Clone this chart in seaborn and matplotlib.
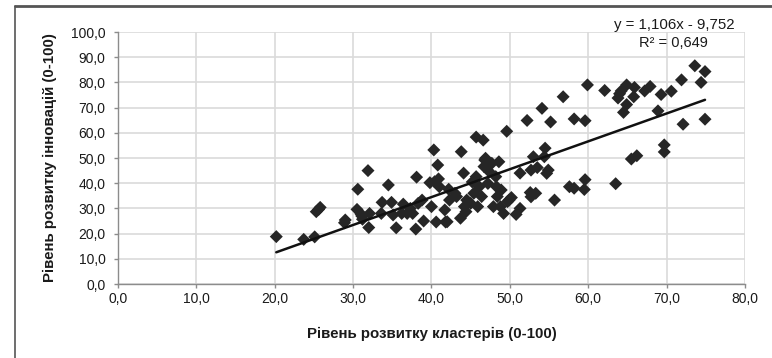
import matplotlib
matplotlib.use("Agg")
import matplotlib.pyplot as plt
from matplotlib.lines import Line2D
import numpy as np
import pandas as pd
import seaborn as sns

# Cluster development level (x) and innovation development level (y), 0-100 scale
cluster_level = [
    20.2, 23.7, 25.1, 25.3, 25.8, 25.6, 28.9, 29.0, 30.6, 30.5,
    31.1, 31.2, 31.9, 32.0, 32.1, 33.6, 33.7, 34.5, 34.9, 35.1,
    35.5, 36.2, 36.4, 36.9, 37.3, 37.6, 38.0, 38.1, 38.3, 38.8,
    39.0, 39.8, 40.0, 40.3, 40.6, 40.8, 40.9, 41.0, 41.7, 42.0,
    42.2, 42.3, 43.0, 43.2, 43.7, 43.8, 44.1, 44.2, 44.4, 44.5,
    45.0, 45.4, 45.7, 45.7, 45.9, 46.1, 46.4, 46.6, 46.7, 46.9,
    47.2, 47.7, 47.9, 48.2, 48.3, 48.4, 48.6, 48.8, 48.9, 49.2,
    49.6, 49.9, 50.2, 50.8, 51.3, 51.3, 52.2, 52.6, 52.7, 53.0,
    53.3, 53.5, 54.1, 54.5, 54.7, 54.9, 55.2, 55.7, 56.8, 57.6,
    58.2, 58.2, 59.5, 59.6, 59.6, 59.9, 62.1, 63.5, 63.8, 64.0,
    64.5, 64.9, 64.9, 65.5, 65.9, 66.2, 65.8, 67.2, 67.9, 69.3,
    68.9, 69.7, 69.7, 70.6, 71.9, 72.1, 73.6, 74.4, 74.9, 74.9,
    41.8, 54.4, 40.4, 46.8, 47.4, 52.7, 49.7, 64.2, 31.0, 45.2,
]
innovation_level = [
    18.8, 17.7, 18.7, 28.7, 30.4, 29.6, 24.3, 25.4, 37.6, 29.6,
    27.0, 25.7, 45.0, 22.4, 28.0, 28.0, 32.4, 39.3, 32.4, 27.4,
    22.3, 28.0, 31.7, 28.0, 30.0, 28.0, 21.8, 42.4, 32.0, 33.3,
    25.0, 40.2, 30.7, 53.2, 24.6, 47.2, 41.7, 38.6, 29.4, 24.7,
    37.6, 33.3, 36.0, 34.7, 26.1, 52.5, 44.0, 30.7, 28.7, 33.3,
    32.0, 36.0, 58.3, 42.6, 30.7, 38.6, 34.7, 57.1, 46.6, 49.9,
    39.9, 47.9, 30.7, 42.6, 38.6, 34.7, 48.5, 30.7, 37.3, 28.0,
    60.6, 33.3, 34.3, 27.6, 30.0, 44.0, 64.9, 36.3, 45.2, 50.5,
    36.0, 46.2, 69.7, 53.9, 43.9, 45.2, 64.3, 33.3, 74.3, 38.6,
    65.5, 38.0, 37.5, 41.4, 64.8, 79.0, 76.8, 39.8, 73.8, 75.5,
    68.1, 71.2, 79.0, 49.6, 78.0, 50.9, 74.3, 76.6, 78.4, 75.2,
    68.7, 55.2, 52.4, 76.5, 81.0, 63.4, 86.6, 80.0, 84.3, 65.4,
    24.6, 50.5, 40.6, 49.2, 44.5, 34.6, 32.7, 76.6, 27.8, 40.5,
]

# Linear trend as stated in the chart annotation
trend_slope = 1.106
trend_intercept = -9.752
trend_r2 = 0.649

x_ticks = [0, 10, 20, 30, 40, 50, 60, 70, 80]
x_tick_labels = ["0,0", "10,0", "20,0", "30,0", "40,0", "50,0", "60,0", "70,0", "80,0"]
y_ticks = [0, 10, 20, 30, 40, 50, 60, 70, 80, 90, 100]
y_tick_labels = ["0,0", "10,0", "20,0", "30,0", "40,0", "50,0", "60,0", "70,0",
                 "80,0", "90,0", "100,0"]

x_title = "Рівень розвитку кластерів (0-100)"
y_title = "Рівень розвитку інновацій (0-100)"

df = pd.DataFrame({"cluster": cluster_level, "innovation": innovation_level})
x_line = np.array([min(cluster_level), max(cluster_level)])
line_df = pd.DataFrame({"cluster": x_line,
                        "innovation": trend_slope * x_line + trend_intercept})

sns.set_style("whitegrid")
plt.rcParams["font.family"] = ["Liberation Sans", "DejaVu Sans"]

fig = plt.figure(figsize=(7.72, 3.58), dpi=100)
ax = fig.add_axes([0.1528, 0.2067, 0.8122, 0.7039])

sns.scatterplot(data=df, x="cluster", y="innovation", marker="D", s=44,
                color="#262626", edgecolor="none", linewidth=0, ax=ax, zorder=3)
sns.lineplot(data=line_df, x="cluster", y="innovation", color="#111111",
             linewidth=1.8, ax=ax, zorder=4)

ax.set_xlim(0, 80)
ax.set_ylim(0, 100)
ax.set_xticks(x_ticks)
ax.set_xticklabels(x_tick_labels)
ax.set_yticks(y_ticks)
ax.set_yticklabels(y_tick_labels)
ax.grid(True, color="#dadada", linewidth=1.2)
ax.set_axisbelow(True)

for side in ("top", "right"):
    ax.spines[side].set_visible(False)
for side in ("left", "bottom"):
    ax.spines[side].set_visible(True)
    ax.spines[side].set_color("#8c8c8c")
    ax.spines[side].set_linewidth(1.0)

ax.tick_params(axis="both", which="both", length=3, width=1.0, color="#8c8c8c",
               labelsize=10, labelcolor="#1a1a1a", direction="out",
               left=True, bottom=True)
ax.tick_params(axis="x", pad=2.5)
ax.tick_params(axis="y", pad=6)

ax.set_xlabel(x_title, fontsize=10.8, fontweight="bold", color="#1a1a1a", labelpad=15)
ax.set_ylabel(y_title, fontsize=10.8, fontweight="bold", color="#1a1a1a", labelpad=10)

eq_text = f"y = {trend_slope:.3f}x - {abs(trend_intercept):.3f}".replace(".", ",")
r2_text = f"R² = {trend_r2:.3f}".replace(".", ",")
fig.text(0.951, 0.931, eq_text, ha="right", va="center", fontsize=10.8, color="#1a1a1a")
fig.text(0.917, 0.879, r2_text, ha="right", va="center", fontsize=10.5, color="#1a1a1a")

# outer frame lines (top and left)
fig.add_artist(Line2D([0.019, 1.0], [0.983, 0.983], transform=fig.transFigure,
                      color="#555555", linewidth=2.0))
fig.add_artist(Line2D([0.019, 0.019], [0.0, 0.983], transform=fig.transFigure,
                      color="#555555", linewidth=1.2))

fig.savefig("out.png", dpi=100)
